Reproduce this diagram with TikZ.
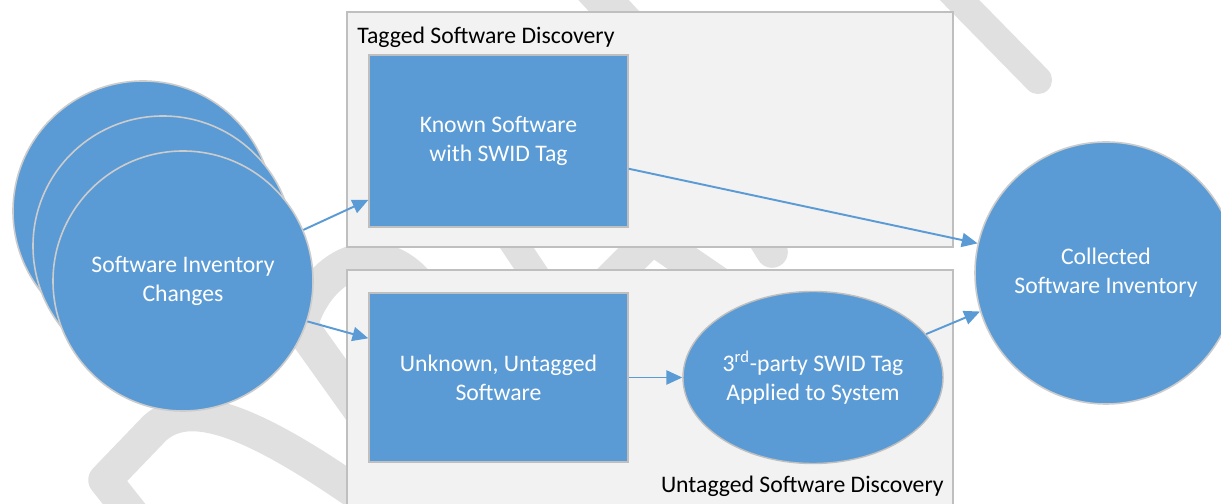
\documentclass[tikz,border=0pt]{standalone}
\usepackage{fontspec}
\setmainfont{Carlito}
\usetikzlibrary{arrows.meta,calc,shapes.geometric}
\definecolor{swblue}{HTML}{5B9BD5}
\definecolor{boxgray}{HTML}{F2F2F2}
\definecolor{edgegray}{HTML}{BFBFBF}
\definecolor{wmgray}{HTML}{E0E0E0}

\begin{document}
\begin{tikzpicture}[scale=2,
   wmark/.style={draw=wmgray,line width=17pt,line cap=round,line join=round},
   blob/.style={circle,fill=swblue,draw=edgegray!80,line width=0.9pt,inner sep=0pt,
      text=white,align=center,font=\fontsize{13.5}{16.5}\selectfont},
   block/.style={rectangle,fill=swblue,draw=edgegray,line width=0.8pt,inner sep=0pt,
      minimum width=5.18cm,text=white,align=center,font=\fontsize{13.5}{16.5}\selectfont},
   group/.style={fill=boxgray,draw=edgegray,line width=0.8pt},
   grouptitle/.style={inner sep=0pt,font=\fontsize{13.5}{16.5}\selectfont},
   flow/.style={draw=swblue,line width=1.1pt,-{Triangle[length=9pt,width=8pt]}}]
   \useasboundingbox (0,0) rectangle (12.21,5.04);
   \clip (0,0) rectangle (12.21,5.04);
   \fill[white] (0,0) rectangle (12.21,5.04);

   \draw[wmark,line width=19pt] (1.40,-0.20) -- (1.05,0.24) -- (1.55,0.76)
      .. controls (1.85,1.02) and (2.35,0.95) .. (3.55,0.12) -- (3.90,-0.15);
   \draw[wmark,line width=20pt] (3.60,0.95) -- (3.00,1.79)
      .. controls (3.20,2.45) and (3.85,2.70) .. (4.25,2.10);
   \draw[wmark,line width=16pt] (5.05,2.74) -- (5.45,2.14);
   \draw[wmark,line width=19pt] (5.60,1.74) -- (6.52,2.66) -- (7.50,1.99);
   \draw[wmark,line width=18pt] (7.40,3.04) -- (7.72,2.52);
   \draw[wmark,line width=21pt] (5.85,5.24) -- (6.50,4.54);
   \draw[wmark,line width=16pt] (9.35,5.29) -- (10.38,4.24);

   \draw[group] (3.47,2.57) rectangle (9.53,4.92);
   \draw[group] (3.47,-0.20) rectangle (9.53,2.34);
   \node[grouptitle,anchor=base west] (tagtitle) at (3.57,4.60) {Tagged Software Discovery};
   \node[grouptitle,anchor=base east] (untagtitle) at (9.44,0.11) {Untagged Software Discovery};

   \node[blob,minimum size=5.2cm] (back) at (1.43,2.93) {};
   \node[blob,minimum size=5.2cm] (mid) at (1.63,2.58) {};
   \node[blob,minimum size=5.2cm] (chg) at (1.83,2.23) {Software Inventory\\Changes};

   \node[block,minimum height=3.44cm] (known) at (4.985,3.63) {Known Software\\with SWID Tag};
   \node[block,minimum height=3.38cm] (unk) at (4.985,1.265) {Unknown, Untagged\\Software};
   \node[ellipse,fill=swblue,draw=edgegray,line width=0.8pt,inner sep=0pt,
      minimum width=5.2cm,minimum height=3.44cm,text=white,align=center,
      font=\fontsize{13.5}{16.5}\selectfont] (tag) at (8.13,1.265)
      {3\textsuperscript{rd}-party SWID Tag\\Applied to System};
   \node[blob,minimum size=5.24cm] (coll) at (11.06,2.31) {Collected\\Software Inventory};

   \draw[flow] (chg.23) -- ($(known.south west)!.16!(known.north west)$);
   \draw[flow] (chg.-18) -- ($(unk.south west)!.73!(unk.north west)$);
   \draw[flow] ($(known.south east)!.34!(known.north east)$) -- (coll.167);
   \draw[flow] (unk.east) -- (tag.west);
   \draw[flow] (tag.21) -- (coll.197);
\end{tikzpicture}
\end{document}
